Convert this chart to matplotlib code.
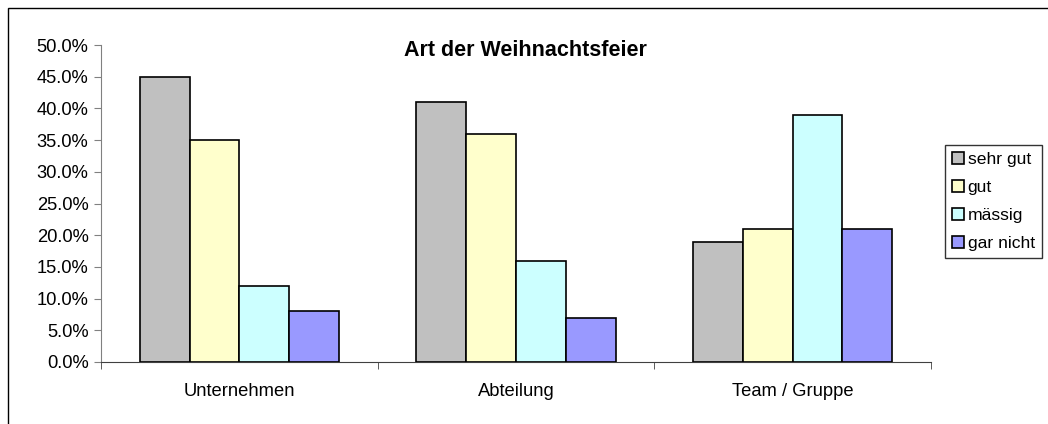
import matplotlib
matplotlib.use("Agg")
import matplotlib.pyplot as plt
import numpy as np
from matplotlib.patches import Rectangle

plt.rcParams['font.family'] = ['Liberation Sans', 'DejaVu Sans']

categories = ["Unternehmen", "Abteilung", "Team / Gruppe"]
series_names = ["sehr gut", "gut", "mässig", "gar nicht"]
sehr_gut = [45, 41, 19]
gut = [35, 36, 21]
maessig = [12, 16, 39]
gar_nicht = [8, 7, 21]
colors = ["#C0C0C0", "#FFFFCC", "#CCFFFF", "#9999FF"]
title = "Art der Weihnachtsfeier"
yticks = [0, 5, 10, 15, 20, 25, 30, 35, 40, 45, 50]

W, H = 1048, 424
fig = plt.figure(figsize=(W/100, H/100), dpi=100)
ax = fig.add_axes([101/W, 1-362/H, (931-101)/W, (362-45)/H])

series = [sehr_gut, gut, maessig, gar_nicht]
x = np.arange(len(categories)) + 0.5
w = 0.18
for i, (vals, name, c) in enumerate(zip(series, series_names, colors)):
    ax.bar(x + (i-1.5)*w, vals, width=w, color=c, edgecolor="black",
           linewidth=1.2, label=name, zorder=3)

fs = 13.2
ax.set_xlim(0, 3)
ax.set_ylim(0, 50)
ax.set_yticks(yticks)
ax.set_yticklabels([f"{v:.1f}%" for v in yticks], fontsize=fs)
ax.set_xticks(x)
ax.set_xticklabels(categories, fontsize=fs)
ax.set_xticks([0, 1, 2, 3], minor=True)
ax.tick_params(axis='x', which='major', length=0, pad=15)
ax.tick_params(axis='x', which='minor', length=5, direction='out', color='#404040')
ax.tick_params(axis='y', length=5, direction='out', color='#808080', pad=4)
for s in ['top', 'right']:
    ax.spines[s].set_visible(False)
ax.spines['left'].set_color('#808080')
ax.spines['bottom'].set_color('#404040')

fig.text(525/W, 1-50/H, title, ha='center', va='center', fontsize=15.5, fontweight='bold')

leg = fig.legend(loc='upper left', bbox_to_anchor=(945/W, 1-145/H),
                 fontsize=12.6, frameon=True, fancybox=False, shadow=False,
                 handlelength=0.7, handleheight=0.7, handletextpad=0.2,
                 borderpad=0.4, labelspacing=0.72, borderaxespad=0)
leg.get_frame().set_edgecolor('black')
leg.get_frame().set_linewidth(1.0)

fig.patches.append(Rectangle((8/W, -0.1), 2, 1-8/H+0.1, transform=fig.transFigure,
                             fill=False, edgecolor='black', linewidth=1.0))

fig.savefig("out.png", dpi=100)
